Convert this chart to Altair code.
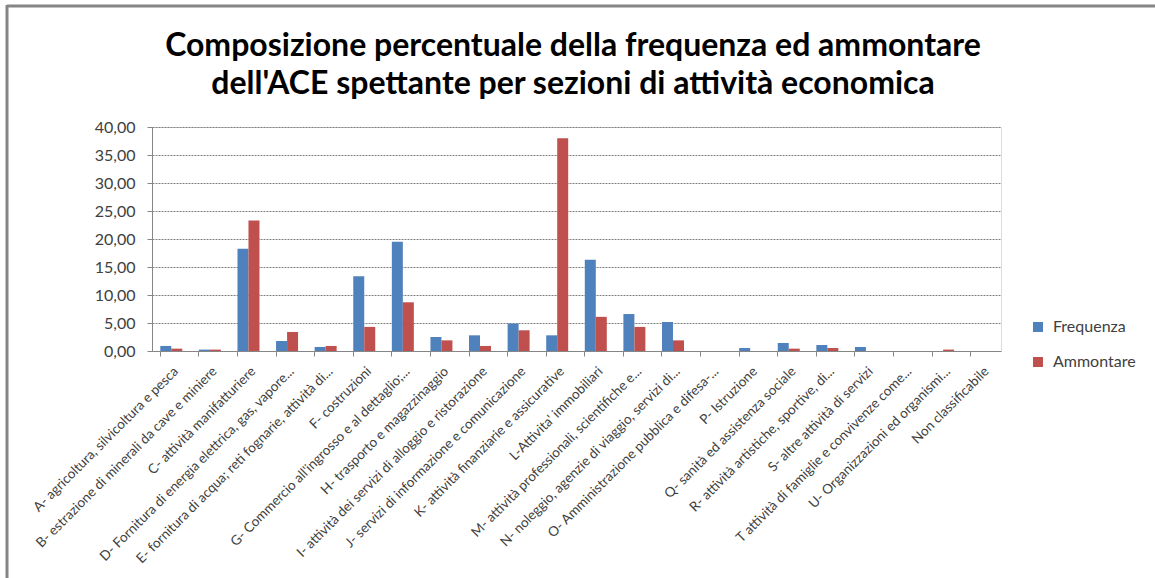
import altair as alt
import pandas as pd

title_lines = ["Composizione percentuale della frequenza ed ammontare",
               "dell'ACE spettante per sezioni di attività economica"]
categories = [
    "A- agricoltura, silvicoltura e pesca",
    "B- estrazione di minerali da cave e miniere",
    "C- attività manifatturiere",
    "D- Fornitura di energia elettrica, gas, vapore...",
    "E- fornitura di acqua; reti fognarie, attività di...",
    "F- costruzioni",
    "G- Commercio all'ingrosso e al dettaglio;...",
    "H- trasporto e magazzinaggio",
    "I- attività dei servizi di alloggio e ristorazione",
    "J- servizi di informazione e comunicazione",
    "K- attività finanziarie e assicurative",
    "L-Attivita' immobiliari",
    "M- attività professionali, scientifiche e...",
    "N- noleggio, agenzie di viaggio, servizi di...",
    "O- Amministrazione pubblica e difesa-...",
    "P- Istruzione",
    "Q- sanità ed assistenza sociale",
    "R- attività artistiche, sportive, di...",
    "S- altre attività di servizi",
    "T attività di famiglie e convivenze come...",
    "U- Organizzazioni ed organismi...",
    "Non classificabile",
]
frequenza = [0.90, 0.25, 18.25, 1.80, 0.72, 13.35, 19.50, 2.50, 2.80, 4.90, 2.80,
             16.30, 6.60, 5.20, 0.00, 0.54, 1.43, 1.07, 0.72, 0.00, 0.00, 0.00]
ammontare = [0.42, 0.25, 23.30, 3.40, 0.90, 4.30, 8.70, 1.90, 0.90, 3.70, 38.00,
             6.10, 4.30, 1.90, 0.00, 0.00, 0.42, 0.54, 0.00, 0.00, 0.25, 0.00]
series = ["Frequenza", "Ammontare"]
colors = ["#4F81BD", "#C0504D"]

rows = []
for c, f, a in zip(categories, frequenza, ammontare):
    rows.append({"cat": c, "serie": series[0], "val": f})
    rows.append({"cat": c, "serie": series[1], "val": a})
df = pd.DataFrame(rows)

FONT = "Lato"
TXT = "#404040"

bars = alt.Chart(df).mark_bar().encode(
    x=alt.X("cat:N", sort=categories,
            scale=alt.Scale(paddingInner=0.43, paddingOuter=0.215),
            axis=alt.Axis(title=None, labelAngle=-45, labelFontSize=13.5, labelFont=FONT,
                          labelColor=TXT, labelLimit=400, bandPosition=0,
                          domainColor="#868686", tickColor="#868686", tickSize=5,
                          labelPadding=8, grid=False)),
    xOffset=alt.XOffset("serie:N", sort=series, scale=alt.Scale(paddingInner=0, paddingOuter=0)),
    y=alt.Y("val:Q", scale=alt.Scale(domain=[0, 40], nice=False),
            axis=alt.Axis(title=None, values=[0, 5, 10, 15, 20, 25, 30, 35, 40],
                          labelExpr="replace(format(datum.value, '.2f'), '.', ',')",
                          labelFontSize=16, labelFont=FONT, labelColor=TXT,
                          domainColor="#868686", tickColor="#868686", tickSize=5,
                          gridColor="#7f7f7f", gridDash=[2, 1], labelPadding=12)),
    color=alt.Color("serie:N", sort=series,
                    scale=alt.Scale(domain=series, range=colors),
                    legend=alt.Legend(title=None, orient="none", legendX=878, legendY=192,
                                      symbolType="square", symbolSize=100,
                                      symbolStrokeWidth=0,
                                      labelFontSize=16, labelFont=FONT, labelColor=TXT,
                                      rowPadding=19, labelOffset=7)),
)

title = alt.Chart(alt.Data(values=[{}])).mark_text(
    font=FONT, fontSize=32, fontWeight="bold", color="#000000",
    align="center", baseline="alphabetic", lineHeight=38,
).encode(x=alt.value(421), y=alt.value(-71), text=alt.value(title_lines))

frame = alt.Chart(alt.Data(values=[{}])).mark_rule(color="#868686", strokeWidth=3)
top_line = frame.encode(x=alt.value(-145), x2=alt.value(1003), y=alt.value(-121))
left_line = frame.encode(x=alt.value(-145), y=alt.value(-122), y2=alt.value(451))

chart = alt.layer(bars, title, top_line, left_line).properties(
    width=849,
    height=224,
    autosize=alt.AutoSizeParams(type="none"),
    padding={"left": 152, "top": 127, "right": 154, "bottom": 227},
).configure_view(stroke=None).configure(background="white")

chart.save("out.html", embed_options={"renderer": "svg", "actions": False})
